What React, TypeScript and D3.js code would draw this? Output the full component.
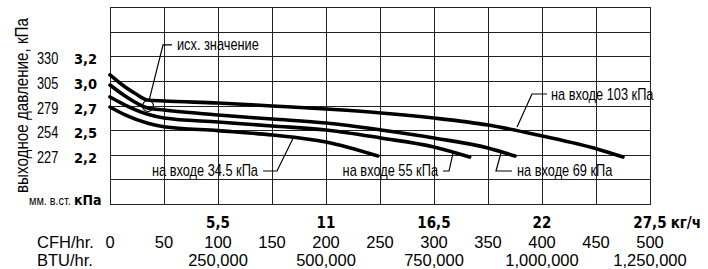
import * as d3 from "d3";
import { useEffect, useRef } from "react";

const width = 708;
const height = 269;
const plot = { left: 110, right: 650, top: 7, bottom: 204 };

// flow, CFH/hr.
const cfhTicks = [0, 50, 100, 150, 200, 250, 300, 350, 400, 450, 500];
const btuAt = [100, 200, 300, 400, 500];
const btuLabels = ["250,000", "500,000", "750,000", "1,000,000", "1,250,000"];
const kgAt = [100, 200, 300, 400, 500];
const kgLabels = ["5,5", "11", "16,5", "22", "27,5"];

// outlet pressure, mm w.c. / kPa
const mmLabels = ["330", "305", "279", "254", "227"];
const kpaLabels = ["3,2", "3,0", "2,7", "2,5", "2,2"];
const yDomain = [175.5, 381.5];
const yGridStep = 25.75;

// curves: x in CFH/hr., y in mm w.c.
const cfh103 = [0, 14, 23, 35, 50, 100, 150, 200, 251, 300, 350, 400, 451, 475];
const mm103 = [310.4, 297.8, 291.3, 284.2, 283.2, 281.1, 278.0, 274.8, 270.7, 265.4, 258.1, 246.6, 233.0, 224.6];
const cfh69 = [0, 14, 35, 50, 100, 150, 200, 251, 300, 350, 375];
const mm69 = [299.9, 288.4, 275.9, 273.8, 268.6, 264.4, 260.2, 252.9, 244.5, 234.1, 225.7];
const cfh55 = [0, 14, 35, 50, 100, 150, 200, 251, 300, 333];
const mm55 = [287.4, 279.0, 269.3, 265.4, 261.2, 257.1, 252.9, 244.5, 235.1, 224.6];
const cfh345 = [0, 14, 35, 50, 100, 150, 200, 248];
const mm345 = [276.9, 268.6, 259.9, 256.3, 252.2, 247.7, 240.3, 225.7];

const series = [
  { name: "103", xs: cfh103, ys: mm103 },
  { name: "69", xs: cfh69, ys: mm69 },
  { name: "55", xs: cfh55, ys: mm55 },
  { name: "34.5", xs: cfh345, ys: mm345 },
];

// callouts: text + leader path, in data units
const callouts = [
  { text: "исх. значение", anchor: "start", at: [62, 336.5], leader: [[57.4, 341.8], [49.1, 341.8], [36.1, 283.4]] },
  { text: "на входе 34.5 кПа", anchor: "end", at: [137, 204.8], leader: [[141.7, 210.0], [154.6, 210.0], [169.4, 244.1]] },
  { text: "на входе 55 кПа", anchor: "end", at: [303.7, 204.8], leader: [[308.3, 210.0], [313.9, 210.0], [317.6, 228.8]] },
  { text: "на входе 69 кПа", anchor: "start", at: [376.9, 204.8], leader: [[372.2, 210.0], [357.4, 210.0], [362.0, 228.8]] },
  { text: "на входе 103 кПа", anchor: "start", at: [408.3, 284.2], leader: [[404.6, 290.5], [390.7, 290.5], [376.9, 256.0]] },
];
const refPoint = [35.2, 278.0];

// no narrow face installed: squeeze Liberation Sans instead
const sans = "'Liberation Sans', Arial, sans-serif";
const condBold = "'DejaVu Sans Condensed', 'DejaVu Sans', sans-serif";
const squeeze = 0.8;

export default function App() {
  const svgRef = useRef(null);

  useEffect(() => {
    if (!svgRef.current) return;
    drawChart(svgRef.current);
  }, []);

  return (
    <svg
      ref={svgRef}
      width={width}
      height={height}
      style={{ position: "absolute", left: 0, top: 0, background: "#fff" }}
    />
  );
}

function narrowAt(px, py, rotate = 0) {
  return `translate(${px}, ${py})${rotate ? ` rotate(${rotate})` : ""} scale(${squeeze}, 1)`;
}

function drawChart(svgElement) {
  const svg = d3.select(svgElement);
  svg.selectAll("*").remove();

  const x = d3.scaleLinear().domain([0, 500]).range([plot.left, plot.right]);
  const y = d3.scaleLinear().domain(yDomain).range([plot.bottom, plot.top]);
  const yTick = d3
    .scalePoint()
    .domain(kpaLabels)
    .range([y(yDomain[0] + 6 * yGridStep), y(yDomain[0] + 2 * yGridStep)]);

  const yGrid = d3.range(yDomain[0], yDomain[1] + 1, yGridStep);

  const grid = svg.append("g").attr("stroke", "#222").attr("stroke-width", 1);
  grid
    .selectAll(".vx")
    .data(cfhTicks)
    .join("line")
    .attr("x1", (d) => Math.round(x(d)) + 0.5)
    .attr("x2", (d) => Math.round(x(d)) + 0.5)
    .attr("y1", plot.top)
    .attr("y2", plot.bottom);
  grid
    .selectAll(".hy")
    .data(yGrid)
    .join("line")
    .attr("x1", plot.left)
    .attr("x2", plot.right + 1)
    .attr("y1", (d) => Math.round(y(d)) + 0.5)
    .attr("y2", (d) => Math.round(y(d)) + 0.5);

  // y-axis labels
  svg
    .append("g")
    .selectAll("text")
    .data(mmLabels)
    .join("text")
    .attr("transform", (_, i) => narrowAt(37, yTick(kpaLabels[i]) + 8))
    .style("font-family", sans)
    .style("font-size", "16px")
    .text((d) => d);
  svg
    .append("g")
    .selectAll("text")
    .data(kpaLabels)
    .join("text")
    .attr("x", 74)
    .attr("y", (d) => yTick(d) + 8)
    .style("font-family", condBold)
    .style("font-stretch", "condensed")
    .style("font-weight", "700")
    .style("font-size", "14.5px")
    .text((d) => d);

  svg
    .append("text")
    .attr("transform", narrowAt(28, (plot.top + plot.bottom) / 2, -90))
    .attr("text-anchor", "middle")
    .style("font-family", sans)
    .style("font-size", "19px")
    .text("выходное давление, кПа");

  svg
    .append("text")
    .attr("transform", narrowAt(29, 205))
    .style("font-family", sans)
    .style("font-size", "13.5px")
    .text("мм. в.ст.");
  svg
    .append("text")
    .attr("x", 74)
    .attr("y", 205)
    .style("font-family", condBold)
    .style("font-stretch", "condensed")
    .style("font-weight", "700")
    .style("font-size", "14px")
    .text("кПа");

  // kg/h row
  const kg = svg
    .append("g")
    .selectAll("text")
    .data(kgLabels)
    .join("text")
    .attr("x", (_, i) => x(kgAt[i]))
    .attr("y", 228)
    .attr("text-anchor", "middle")
    .style("font-family", condBold)
    .style("font-stretch", "condensed")
    .style("font-weight", "700")
    .style("font-size", "15px")
    .text((d) => d);
  const lastKg = kg.nodes()[kgLabels.length - 1];
  const lastW = lastKg.getComputedTextLength();
  svg
    .append("text")
    .attr("x", x(kgAt[kgAt.length - 1]) + lastW / 2 + 4)
    .attr("y", 228)
    .style("font-family", condBold)
    .style("font-stretch", "condensed")
    .style("font-weight", "700")
    .style("font-size", "15px")
    .text("кг/ч");

  // CFH / BTU rows
  const cfhY = 248;
  const btuY = 266;
  svg
    .append("text")
    .attr("x", 37)
    .attr("y", cfhY)
    .style("font-family", sans)
    .style("font-size", "16.5px")
    .text("CFH/hr.");
  svg
    .append("text")
    .attr("x", 37)
    .attr("y", btuY)
    .style("font-family", sans)
    .style("font-size", "16.5px")
    .text("BTU/hr.");
  svg
    .append("g")
    .selectAll("text")
    .data(cfhTicks)
    .join("text")
    .attr("x", (d) => x(d))
    .attr("y", cfhY)
    .attr("text-anchor", "middle")
    .style("font-family", sans)
    .style("font-size", "16.5px")
    .text((d) => d);
  svg
    .append("g")
    .selectAll("text")
    .data(btuLabels)
    .join("text")
    .attr("x", (_, i) => x(btuAt[i]))
    .attr("y", btuY)
    .attr("text-anchor", "middle")
    .style("font-family", sans)
    .style("font-size", "16.5px")
    .text((d) => d);

  // curves
  const line = d3
    .line()
    .x((d) => x(d[0]))
    .y((d) => y(d[1]))
    .curve(d3.curveMonotoneX);
  svg
    .append("g")
    .selectAll("path")
    .data(series)
    .join("path")
    .attr("d", (s) => line(s.xs.map((v, i) => [v, s.ys[i]])))
    .attr("fill", "none")
    .attr("stroke", "#000")
    .attr("stroke-width", 3.6)
    .attr("stroke-linecap", "round")
    .attr("stroke-linejoin", "round");

  // callouts
  const leader = d3
    .line()
    .x((d) => x(d[0]))
    .y((d) => y(d[1]));
  svg
    .append("g")
    .selectAll("path")
    .data(callouts)
    .join("path")
    .attr("d", (c) => leader(c.leader))
    .attr("fill", "none")
    .attr("stroke", "#000")
    .attr("stroke-width", 1.2);

  svg
    .append("g")
    .selectAll("text")
    .data(callouts)
    .join("text")
    .attr("transform", (c) => narrowAt(x(c.at[0]), y(c.at[1])))
    .attr("text-anchor", (c) => c.anchor)
    .style("font-family", sans)
    .style("font-size", "16px")
    .text((c) => c.text);

  svg
    .append("circle")
    .attr("cx", x(refPoint[0]))
    .attr("cy", y(refPoint[1]))
    .attr("r", 5.5)
    .attr("fill", "none")
    .attr("stroke", "#000")
    .attr("stroke-width", 1.2);
}
